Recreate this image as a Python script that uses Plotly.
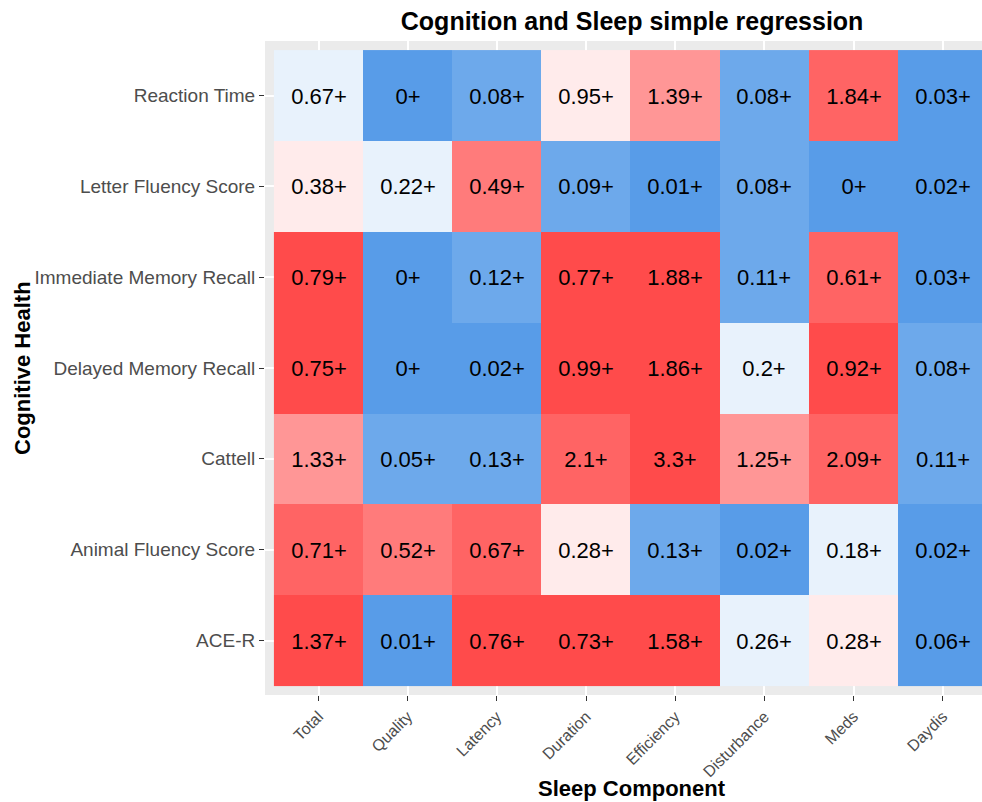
import plotly.graph_objects as go

rows = ["Reaction Time", "Letter Fluency Score", "Immediate Memory Recall",
        "Delayed Memory Recall", "Cattell", "Animal Fluency Score", "ACE-R"]
cols = ["Total", "Quality", "Latency", "Duration", "Efficiency",
        "Disturbance", "Meds", "Daydis"]

reaction_time = [0.67, 0, 0.08, 0.95, 1.39, 0.08, 1.84, 0.03]
letter_fluency = [0.38, 0.22, 0.49, 0.09, 0.01, 0.08, 0, 0.02]
immediate_recall = [0.79, 0, 0.12, 0.77, 1.88, 0.11, 0.61, 0.03]
delayed_recall = [0.75, 0, 0.02, 0.99, 1.86, 0.2, 0.92, 0.08]
cattell = [1.33, 0.05, 0.13, 2.1, 3.3, 1.25, 2.09, 0.11]
animal_fluency = [0.71, 0.52, 0.67, 0.28, 0.13, 0.02, 0.18, 0.02]
ace_r = [1.37, 0.01, 0.76, 0.73, 1.58, 0.26, 0.28, 0.06]

# colour class of each cell (0 = deepest blue ... 7 = deepest red)
lvl_reaction_time = [2, 0, 1, 3, 4, 1, 6, 0]
lvl_letter_fluency = [3, 2, 5, 1, 0, 1, 0, 0]
lvl_immediate_recall = [7, 0, 1, 7, 7, 1, 6, 0]
lvl_delayed_recall = [7, 0, 0, 7, 7, 2, 7, 1]
lvl_cattell = [4, 1, 1, 6, 7, 4, 6, 1]
lvl_animal_fluency = [6, 5, 6, 3, 1, 0, 2, 0]
lvl_ace_r = [7, 0, 7, 7, 7, 2, 3, 0]

palette = ["#589CE8", "#6DA9EB", "#E8F2FC", "#FFEBEB",
           "#FF9696", "#FF7B7B", "#FF6464", "#FF4B4B"]

values = [reaction_time, letter_fluency, immediate_recall, delayed_recall,
          cattell, animal_fluency, ace_r]
levels = [lvl_reaction_time, lvl_letter_fluency, lvl_immediate_recall,
          lvl_delayed_recall, lvl_cattell, lvl_animal_fluency, lvl_ace_r]
labels = [[f"{v:g}+" for v in r] for r in values]

n = len(palette)
cscale = []
for i, c in enumerate(palette):
    cscale.append([i / n, c])
    cscale.append([(i + 1) / n, c])

fig = go.Figure(go.Heatmap(
    z=levels, x=cols, y=rows, text=labels, texttemplate="%{text}",
    textfont=dict(size=22, color="black", family="Liberation Sans, Arial"),
    colorscale=cscale, zmin=-0.5, zmax=n - 0.5, showscale=False,
    xgap=0, ygap=0, hoverinfo="skip"))

fig.update_layout(
    width=982, height=802,
    margin=dict(l=265, r=0, t=41, b=107),
    paper_bgcolor="white", plot_bgcolor="#EBEBEB",
    font=dict(family="Liberation Sans, Arial", color="#4D4D4D"),
    title=dict(text="<b>Cognition and Sleep simple regression</b>",
               x=0.512, xref="paper", xanchor="center",
               y=1 - 21 / 802, yref="container", yanchor="middle",
               font=dict(size=25, color="black")),
    xaxis=dict(type="category", categoryorder="array", categoryarray=cols,
               range=[-0.6, 7.44], tickangle=-45,
               tickfont=dict(size=16, color="#4D4D4D"),
               ticks="outside", ticklen=5, tickcolor="#333333",
               showgrid=True, gridcolor="white", gridwidth=1.5,
               zeroline=False, showline=False),
    yaxis=dict(type="category", categoryorder="array", categoryarray=rows,
               range=[6.6, -0.6],
               tickfont=dict(size=19, color="#4D4D4D"),
               ticks="outside", ticklen=5, tickcolor="#333333",
               showgrid=True, gridcolor="white", gridwidth=1.5,
               zeroline=False, showline=False),
    annotations=[
        dict(text="<b>Sleep Component</b>", xref="paper", yref="paper",
             x=0.512, y=-(788 - 695) / 654, xanchor="center", yanchor="middle",
             showarrow=False, font=dict(size=22, color="black")),
        dict(text="<b>Cognitive Health</b>", xref="paper", yref="paper",
             x=-(265 - 22) / 717, y=(695 - 368) / 654, xanchor="center",
             yanchor="middle", textangle=-90,
             showarrow=False, font=dict(size=22, color="black")),
    ],
)

fig.write_html("out.html")
